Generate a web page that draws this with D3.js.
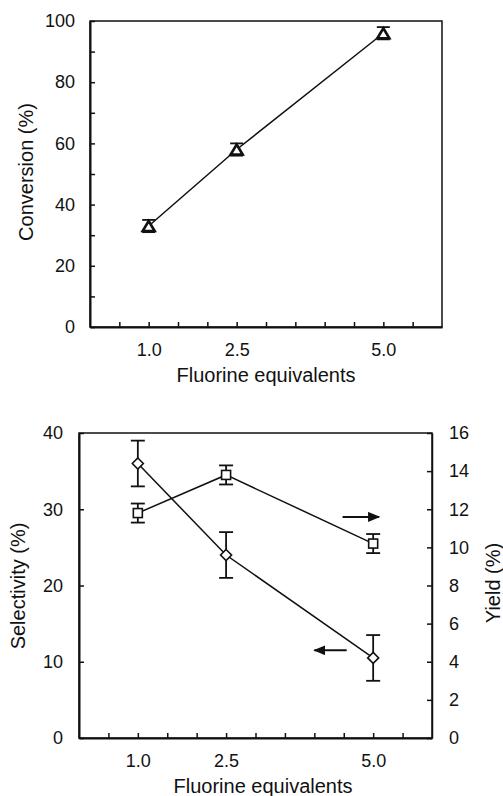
<!DOCTYPE html>
<html>
<head>
<meta charset="utf-8">
<script src="https://cdn.jsdelivr.net/npm/d3@7"></script>
<style>
  html, body { margin: 0; padding: 0; background: #fff; }
  svg text { font-family: "Liberation Sans", Arial, sans-serif; fill: #111; }
</style>
</head>
<body>
<div id="chart"></div>
<script>
// data
const equivalents = [1.0, 2.5, 5.0];
const xLabels = [1.0, 2.5, 5.0];
const conversion = [33, 58, 96];
const conversionErr = [2, 2, 2];
const selectivity = [36, 24, 10.5];
const selectivityErr = [3, 3, 3];
const yieldPct = [11.8, 13.8, 10.2];
const yieldErr = [0.5, 0.5, 0.5];

const W = 503, H = 796;
const svg = d3.select("#chart").append("svg")
  .attr("width", W).attr("height", H);

const ink = "#111";

// arrow head
svg.append("defs").append("marker")
  .attr("id", "head")
  .attr("viewBox", "0 0 12 10")
  .attr("refX", 11).attr("refY", 5)
  .attr("markerWidth", 12).attr("markerHeight", 10)
  .attr("markerUnits", "userSpaceOnUse")
  .attr("orient", "auto")
  .append("path").attr("d", "M0,0 L12,5 L0,10 Z").attr("fill", ink);

function frame(g, w, h) {
  g.append("rect").attr("width", w).attr("height", h)
    .attr("fill", "none").attr("stroke", ink).attr("stroke-width", 1.5);
}

function xAxis(g, x, h) {
  const ax = g.append("g").attr("transform", `translate(0,${h})`)
    .call(d3.axisBottom(x)
      .tickValues(d3.range(0.5, 6, 0.5))
      .tickSizeInner(-5).tickSizeOuter(0).tickPadding(16)
      .tickFormat(d => xLabels.includes(d) ? d3.format(".1f")(d) : ""));
  ax.select(".domain").attr("stroke", ink).attr("stroke-width", 2);
  ax.selectAll(".tick line").attr("stroke", ink).attr("stroke-width", 1.5);
  ax.selectAll("text").attr("font-size", 18).attr("fill", ink);
}

function errorBars(g, xs, ys, errs, x, y, cap) {
  const d = xs.map((v, i) => ({ x: v, y: ys[i], e: errs[i] }));
  const eg = g.append("g").attr("stroke", ink).attr("stroke-width", 1.8);
  eg.selectAll(".v").data(d).join("line")
    .attr("x1", p => x(p.x)).attr("x2", p => x(p.x))
    .attr("y1", p => y(p.y - p.e)).attr("y2", p => y(p.y + p.e));
  [-1, 1].forEach(s => {
    eg.selectAll(".c" + (s + 1)).data(d).join("line")
      .attr("x1", p => x(p.x) - cap).attr("x2", p => x(p.x) + cap)
      .attr("y1", p => y(p.y + s * p.e)).attr("y2", p => y(p.y + s * p.e));
  });
}

function series(g, xs, ys, x, y) {
  g.append("path")
    .datum(xs.map((v, i) => [v, ys[i]]))
    .attr("fill", "none").attr("stroke", ink).attr("stroke-width", 1.5)
    .attr("d", d3.line().x(d => x(d[0])).y(d => y(d[1])));
}

// ---------- top chart: conversion ----------
{
  const m = { left: 90, top: 21 };
  const w = 352, h = 306;
  const g = svg.append("g").attr("transform", `translate(${m.left},${m.top})`);
  const x = d3.scaleLinear().domain([0, 6]).range([0, w]);
  const y = d3.scaleLinear().domain([0, 100]).range([h, 0]);

  frame(g, w, h);
  xAxis(g, x, h);

  const ay = g.append("g")
    .call(d3.axisLeft(y).tickValues(d3.range(0, 101, 10))
      .tickSizeInner(-5).tickSizeOuter(0).tickPadding(15)
      .tickFormat(d => d % 20 === 0 ? d : ""));
  ay.select(".domain").attr("stroke", ink).attr("stroke-width", 2);
  ay.selectAll(".tick line").attr("stroke", ink).attr("stroke-width", 1.5);
  ay.selectAll("text").attr("font-size", 18).attr("fill", ink);

  series(g, equivalents, conversion, x, y);
  errorBars(g, equivalents, conversion, conversionErr, x, y, 6.5);

  g.selectAll(".tri").data(equivalents).join("path")
    .attr("transform", (d, i) => `translate(${x(d)},${y(conversion[i])})`)
    .attr("d", "M0,-5 L6,5 L-6,5 Z")
    .attr("fill", "#fff").attr("stroke", ink).attr("stroke-width", 2.6);

  svg.append("text").attr("x", 266).attr("y", 382)
    .attr("text-anchor", "middle").attr("font-size", 20)
    .text("Fluorine equivalents");
  svg.append("text")
    .attr("transform", "translate(33,172) rotate(-90)")
    .attr("text-anchor", "middle").attr("font-size", 20)
    .text("Conversion (%)");
}

// ---------- bottom chart: selectivity & yield ----------
{
  const m = { left: 79, top: 433 };
  const w = 353, h = 305;
  const g = svg.append("g").attr("transform", `translate(${m.left},${m.top})`);
  const x = d3.scaleLinear().domain([0, 6]).range([0, w]);
  const yL = d3.scaleLinear().domain([0, 40]).range([h, 0]);
  const yR = d3.scaleLinear().domain([0, 16]).range([h, 0]);

  frame(g, w, h);
  xAxis(g, x, h);

  const al = g.append("g")
    .call(d3.axisLeft(yL).tickValues(d3.range(0, 41, 10))
      .tickSizeInner(-5).tickSizeOuter(0).tickPadding(16));
  al.select(".domain").attr("stroke", ink).attr("stroke-width", 2);
  al.selectAll(".tick line").attr("stroke", ink).attr("stroke-width", 1.5);
  al.selectAll("text").attr("font-size", 18).attr("fill", ink);

  const ar = g.append("g").attr("transform", `translate(${w},0)`)
    .call(d3.axisRight(yR).tickValues(d3.range(0, 17, 2))
      .tickSizeInner(-5).tickSizeOuter(0).tickPadding(17));
  ar.select(".domain").attr("stroke", ink).attr("stroke-width", 1.5);
  ar.selectAll(".tick line").attr("stroke", ink).attr("stroke-width", 1.5);
  ar.selectAll("text").attr("font-size", 18).attr("fill", ink);

  // yield (squares, right axis)
  series(g, equivalents, yieldPct, x, yR);
  errorBars(g, equivalents, yieldPct, yieldErr, x, yR, 7);
  g.selectAll(".sq").data(equivalents).join("rect")
    .attr("x", d => x(d) - 4.5)
    .attr("y", (d, i) => yR(yieldPct[i]) - 4.5)
    .attr("width", 9).attr("height", 9)
    .attr("fill", "#fff").attr("stroke", ink).attr("stroke-width", 1.6);

  // selectivity (diamonds, left axis)
  series(g, equivalents, selectivity, x, yL);
  errorBars(g, equivalents, selectivity, selectivityErr, x, yL, 7);
  g.selectAll(".dia").data(equivalents).join("path")
    .attr("transform", (d, i) => `translate(${x(d)},${yL(selectivity[i])})`)
    .attr("d", "M0,-5.5 L5.5,0 L0,5.5 L-5.5,0 Z")
    .attr("fill", "#fff").attr("stroke", ink).attr("stroke-width", 1.6);

  // axis arrows
  g.append("line")
    .attr("x1", x(4.48)).attr("x2", x(5.1))
    .attr("y1", yR(11.6)).attr("y2", yR(11.6))
    .attr("stroke", ink).attr("stroke-width", 2)
    .attr("marker-end", "url(#head)");
  g.append("line")
    .attr("x1", x(4.55)).attr("x2", x(4.0))
    .attr("y1", yL(11.5)).attr("y2", yL(11.5))
    .attr("stroke", ink).attr("stroke-width", 2)
    .attr("marker-end", "url(#head)");

  svg.append("text").attr("x", 263).attr("y", 793)
    .attr("text-anchor", "middle").attr("font-size", 20)
    .text("Fluorine equivalents");
  svg.append("text")
    .attr("transform", "translate(25,586) rotate(-90)")
    .attr("text-anchor", "middle").attr("font-size", 20)
    .text("Selectivity (%)");
  svg.append("text")
    .attr("transform", "translate(500,583) rotate(-90)")
    .attr("text-anchor", "middle").attr("font-size", 20)
    .text("Yield (%)");
}
</script>
</body>
</html>
